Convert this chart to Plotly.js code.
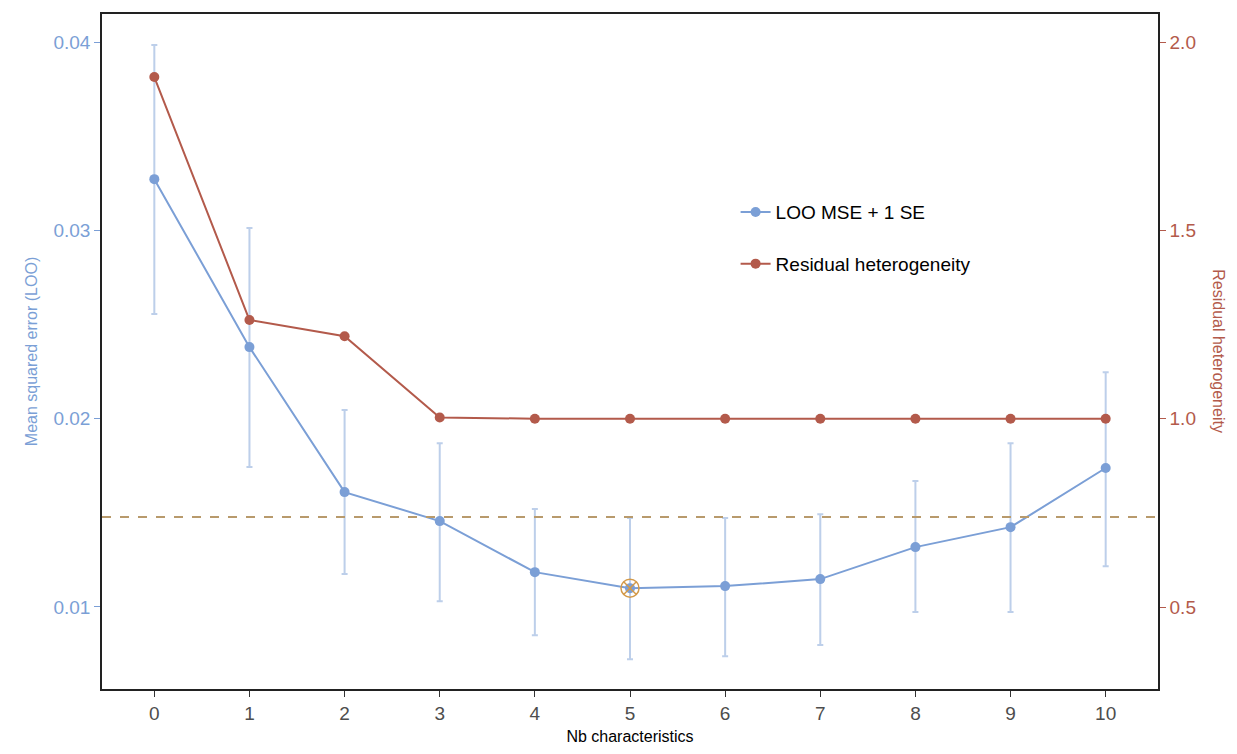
<!DOCTYPE html>
<html>
<head>
<script src="https://cdn.plot.ly/plotly-3.0.1.min.js"></script>
<style>body{margin:0;background:#fff}#plot{width:1237px;height:754px}</style>
</head>
<body>
<div id="plot"></div>
<script>
var nbChar = [0, 1, 2, 3, 4, 5, 6, 7, 8, 9, 10];
var looMse = [0.03272, 0.02380, 0.01610, 0.01456, 0.01185, 0.01100, 0.01111, 0.01148, 0.01318, 0.01424, 0.01738];
var seUpper = [0.03984, 0.03012, 0.02046, 0.01870, 0.01520, 0.01472, 0.01472, 0.01493, 0.01669, 0.01870, 0.02247];
var seLower = [0.02556, 0.01743, 0.01175, 0.01031, 0.00850, 0.00722, 0.00739, 0.00798, 0.00973, 0.00973, 0.01217];
var residHet = [1.907, 1.262, 1.219, 1.003, 1.0, 1.0, 1.0, 1.0, 1.0, 1.0, 1.0];
var threshold = 0.01478;
var bestK = 5;

var blue = '#7b9fd6', red = '#b35a4b';

var trace1 = {
  x: nbChar, y: looMse, mode: 'lines+markers', name: 'LOO MSE + 1 SE', legendgroup: 'a',
  line: {color: blue, width: 2}, marker: {color: blue, size: 10},
  error_y: {type: 'data', symmetric: false,
    array: seUpper.map((u, i) => u - looMse[i]),
    arrayminus: seLower.map((l, i) => looMse[i] - l),
    color: 'rgba(123,159,214,0.5)', thickness: 2, width: 3}
};
var trace2 = {
  x: nbChar, y: residHet, mode: 'lines+markers', name: 'Residual heterogeneity', yaxis: 'y2', legendgroup: 'b',
  line: {color: red, width: 2}, marker: {color: red, size: 10}
};
var trace3 = {
  x: [bestK], y: [looMse[bestK]], mode: 'markers', showlegend: false,
  marker: {symbol: 'circle-x-open', size: 18, color: '#d39a4a', line: {width: 1.5}}
};

var layout = {
  width: 1237, height: 754,
  margin: {l: 102, r: 79, t: 14, b: 65},
  paper_bgcolor: '#fff', plot_bgcolor: '#fff',
  font: {family: 'Liberation Sans, Arial, sans-serif', size: 19, color: '#4d4d4d'},
  showlegend: true,
  legend: {x: 0.6, y: 0.668, xanchor: 'left', yanchor: 'middle', font: {size: 19, color: '#000'}, tracegroupgap: 24, bgcolor: 'rgba(0,0,0,0)'},
  xaxis: {range: [-0.55, 10.55], tickvals: nbChar, ticks: 'outside', ticklen: 6, tickcolor: '#333',
    showgrid: false, zeroline: false, showline: true, linecolor: '#222', linewidth: 1.5, mirror: true,
    title: {text: 'Nb characteristics', font: {size: 16, color: '#000'}, standoff: 8}},
  yaxis: {range: [0.005645, 0.04149], tickvals: [0.01, 0.02, 0.03, 0.04], tickformat: '.2f',
    ticks: 'outside', ticklen: 6, tickcolor: blue, tickfont: {color: blue, size: 19},
    showgrid: false, zeroline: false, showline: true, linecolor: '#222', linewidth: 1.5,
    title: {text: 'Mean squared error (LOO)', font: {size: 16, color: blue}, standoff: 12}},
  yaxis2: {overlaying: 'y', side: 'right', range: [0.2823, 2.0744], tickvals: [0.5, 1.0, 1.5, 2.0], tickformat: '.1f',
    ticks: 'outside', ticklen: 6, tickcolor: red, tickfont: {color: red, size: 19},
    showgrid: false, zeroline: false, showline: true, linecolor: '#222', linewidth: 1.5},
  shapes: [{type: 'line', xref: 'paper', x0: 0, x1: 1, yref: 'y', y0: threshold, y1: threshold,
    line: {color: '#b89a6c', width: 2, dash: 'dash'}}],
  annotations: [{text: 'Residual heterogeneity', xref: 'paper', x: 1.067, yref: 'paper', y: 0.5,
    showarrow: false, textangle: 90, font: {size: 16, color: red}}]
};

window.addEventListener('load', (event) => {
  Plotly.newPlot('plot', [trace1, trace2, trace3], layout, {displayModeBar: false});
});
</script>
</body>
</html>
